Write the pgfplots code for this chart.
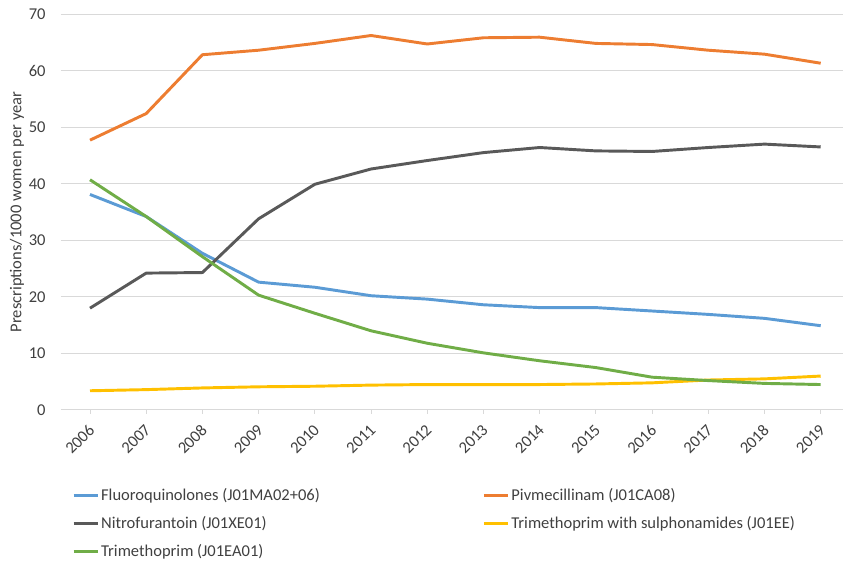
\documentclass[border=0pt]{standalone}
\usepackage{pgfplots}
\pgfplotsset{compat=1.18}
\usepackage{fontspec}
\setmainfont{Carlito}

\definecolor{fluoro}{HTML}{5B9BD5}
\definecolor{pivme}{HTML}{ED7D31}
\definecolor{nitro}{HTML}{595959}
\definecolor{tmpsul}{HTML}{FFC000}
\definecolor{tmp}{HTML}{70AD47}
\definecolor{gridc}{HTML}{D9D9D9}
\definecolor{txt}{HTML}{404040}

\begin{document}
\begin{tikzpicture}[font=\fontsize{12.4}{15}\selectfont]
\useasboundingbox (0pt,0pt) rectangle (632.25pt,422.25pt);
\begin{axis}[
    at={(45.75pt,114.75pt)}, anchor=south west,
    scale only axis,
    width=586.5pt, height=297pt,
    xmin=2005.484, xmax=2019.397,
    ymin=0, ymax=70,
    xtick={2006,...,2019},
    ytick={0,10,...,70},
    axis lines*=left,
    y axis line style={draw=none},
    x axis line style={draw=gridc, line width=0.75pt},
    ymajorgrids=true,
    grid style={draw=gridc, line width=0.75pt},
    xtick align=outside,
    x tick style={draw=gridc, line width=0.75pt},
    major tick length=3pt,
    ytick style={draw=none},
    /pgf/number format/assume math mode=true,
    /pgf/number format/1000 sep={},
    x tick label style={xshift=3.75pt, yshift=-7.5pt, rotate=45, anchor=east, text=txt},
    y tick label style={xshift=-8pt, text=txt},
    ylabel={Prescriptions/1000 women per year},
    every axis y label/.style={at={(axis description cs:-0.0563,0.5)}, rotate=90, anchor=center, text=txt},
    legend columns=2,
    legend cell align=left,
    legend image code/.code={\draw[#1, line width=2.2pt] (0pt,0pt) -- (18pt,0pt);},
    legend style={at={(0.014,-0.192)}, anchor=north west, draw=none, fill=none,
        inner sep=0pt, row sep=7.4pt,
        /tikz/every even column/.append style={column sep=0pt},
        nodes={inner sep=1.5pt, text=txt}},
    every axis plot/.append style={line width=2.2pt, line join=round},
]
\addplot[fluoro] table {
x y
2006 38.1
2007 34.2
2008 27.7
2009 22.6
2010 21.7
2011 20.2
2012 19.6
2013 18.6
2014 18.1
2015 18.1
2016 17.5
2017 16.9
2018 16.2
2019 14.9
};
\addlegendentry{\makebox[284.5pt][l]{Fluoroquinolones (J01MA02+06)}}
\addplot[pivme] table {
x y
2006 47.7
2007 52.4
2008 62.8
2009 63.6
2010 64.8
2011 66.2
2012 64.7
2013 65.8
2014 65.9
2015 64.8
2016 64.6
2017 63.6
2018 62.9
2019 61.3
};
\addlegendentry{Pivmecillinam (J01CA08)}
\addplot[nitro] table {
x y
2006 18.0
2007 24.2
2008 24.3
2009 33.8
2010 39.9
2011 42.6
2012 44.1
2013 45.5
2014 46.4
2015 45.8
2016 45.7
2017 46.4
2018 47.0
2019 46.5
};
\addlegendentry{\makebox[284.5pt][l]{Nitrofurantoin (J01XE01)}}
\addplot[tmpsul] table {
x y
2006 3.4
2007 3.6
2008 3.9
2009 4.1
2010 4.2
2011 4.4
2012 4.5
2013 4.5
2014 4.5
2015 4.6
2016 4.8
2017 5.3
2018 5.5
2019 6.0
};
\addlegendentry{Trimethoprim with sulphonamides (J01EE)}
\addplot[tmp] table {
x y
2006 40.7
2007 34.2
2008 27.1
2009 20.3
2010 17.1
2011 14.0
2012 11.8
2013 10.1
2014 8.7
2015 7.5
2016 5.8
2017 5.2
2018 4.7
2019 4.5
};
\addlegendentry{\makebox[284.5pt][l]{Trimethoprim (J01EA01)}}
\end{axis}
\end{tikzpicture}
\end{document}
